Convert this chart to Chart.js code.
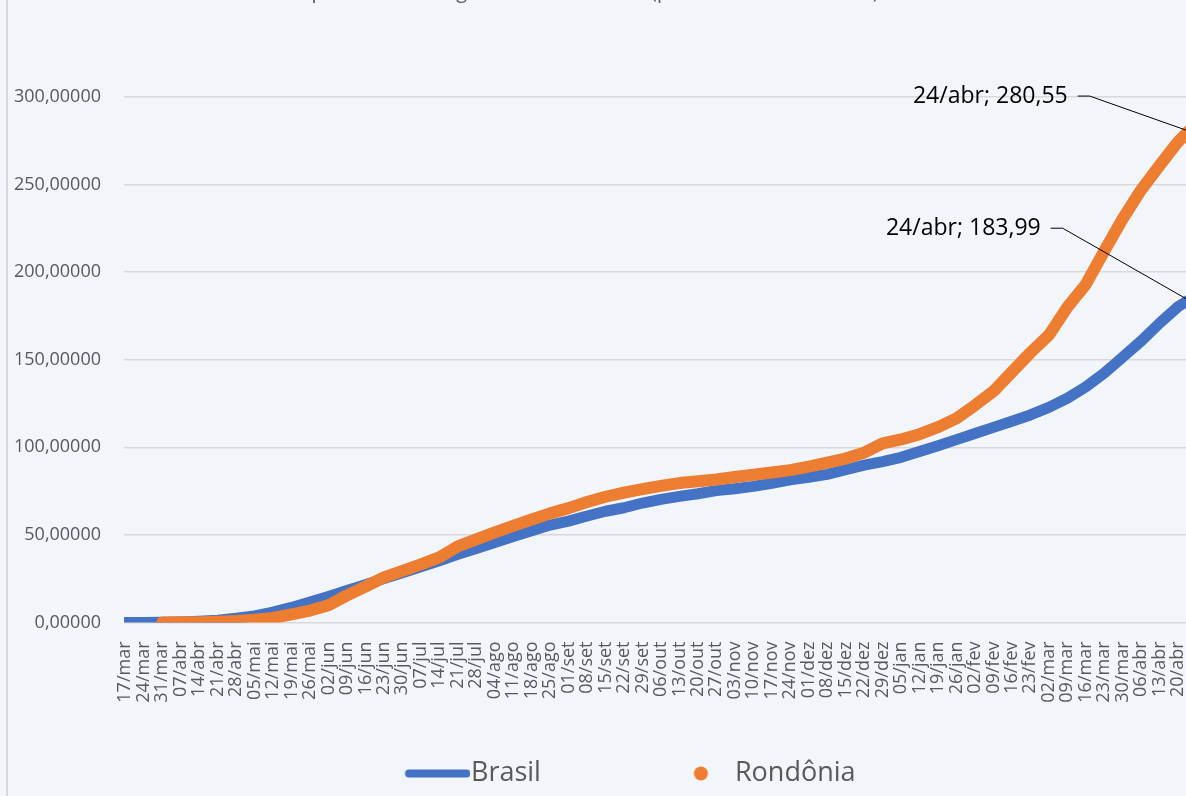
<!DOCTYPE html>
<html lang="pt-BR">
<head>
<meta charset="utf-8">
<title>Brasil x Rondônia</title>
<script src="https://cdn.jsdelivr.net/npm/chart.js@4.4.1/dist/chart.umd.min.js"></script>
<style>
  html, body { margin: 0; padding: 0; background: #f2f5fa; overflow: hidden; }
  body { width: 1186px; height: 796px; position: relative; }
  #caixa { position: absolute; left: 0; top: -46px; width: 1190px; height: 843px; }
  #moldura { position: absolute; left: 6px; top: 0; width: 1.5px; height: 796px; background: #d9d9d9; }
</style>
</head>
<body>
<div id="caixa"><canvas id="grafico" width="1190" height="843"></canvas></div>
<div id="moldura"></div>
<script>
// datas semanais (a última é o dia final da série)
var datas = ['17/mar','24/mar','31/mar','07/abr','14/abr','21/abr','28/abr','05/mai','12/mai','19/mai','26/mai',
  '02/jun','09/jun','16/jun','23/jun','30/jun','07/jul','14/jul','21/jul','28/jul','04/ago','11/ago','18/ago','25/ago',
  '01/set','08/set','15/set','22/set','29/set','06/out','13/out','20/out','27/out','03/nov','10/nov','17/nov','24/nov',
  '01/dez','08/dez','15/dez','22/dez','29/dez','05/jan','12/jan','19/jan','26/jan','02/fev','09/fev','16/fev','23/fev',
  '02/mar','09/mar','16/mar','23/mar','30/mar','06/abr','13/abr','20/abr','24/abr'];

// dia desde 17/mar de cada data acima
var dias = [0,7,14,21,28,35,42,49,56,63,70,77,84,91,98,105,112,119,126,133,140,147,154,161,168,175,182,189,196,
  203,210,217,224,231,238,245,252,259,266,273,280,287,294,301,308,315,322,329,336,343,350,357,364,371,378,385,392,399,403];

var brasil = [0, 0.0, 0.1, 0.3, 0.7, 1.3, 2.4, 3.8, 5.9, 8.6, 11.7, 14.9, 18.3, 21.6, 25.1, 28.4, 31.8, 35.3, 38.9,
  42.2, 45.7, 49.1, 52.4, 55.6, 57.9, 60.8, 63.5, 65.5, 68.2, 70.3, 72.0, 73.5, 75.3, 76.4, 77.7, 79.5, 81.4, 82.9,
  84.6, 87.2, 89.8, 91.9, 94.3, 97.6, 100.9, 104.4, 107.9, 111.4, 114.9, 118.5, 122.8, 128.0, 134.5, 142.4, 151.5,
  160.7, 170.9, 180.3, 183.99];

var rondonia = [null, null, 0.0, 0.1, 0.2, 0.4, 0.8, 1.6, 2.6, 4.6, 6.8, 9.8, 15.5, 20.5, 25.8, 29.5, 33.2, 37.2,
  43.5, 47.5, 51.5, 55.2, 58.8, 62.3, 65.3, 68.8, 71.8, 74.2, 76.2, 78.0, 79.6, 80.6, 81.6, 83.1, 84.3, 85.6, 87.0,
  89.0, 91.2, 93.6, 97.0, 102.3, 104.5, 107.5, 111.5, 116.5, 124.0, 132.0, 143.0, 154.0, 164.0, 180.0, 193.0, 212.0,
  230.5, 247.0, 261.0, 274.5, 280.55];

var azul = '#4472C4', laranja = '#ED7D31', cinza = '#595959';

function pontos(valores) {
  return valores.map(function (v, i) { return { x: dias[i], y: v }; });
}

// amostras da legenda (desenhadas na parte direita de uma imagem larga)
function amostraLinha() {
  var c = document.createElement('canvas');
  c.width = 149; c.height = 15;
  var g = c.getContext('2d');
  g.strokeStyle = azul; g.lineWidth = 8; g.lineCap = 'round';
  g.beginPath(); g.moveTo(87.5, 7.5); g.lineTo(145, 7.5); g.stroke();
  return c;
}
function amostraPonto() {
  var c = document.createElement('canvas');
  c.width = 149; c.height = 15;
  var g = c.getContext('2d');
  g.fillStyle = laranja;
  g.beginPath(); g.arc(115.5, 7.5, 7, 0, Math.PI * 2); g.fill();
  return c;
}

// rótulos do último ponto com linha de chamada
var rotulosFinais = {
  id: 'rotulosFinais',
  afterDatasetsDraw: function (chart) {
    var ctx = chart.ctx;
    var desloc = [[-148, -72], [-121, -35]];
    chart.data.datasets.forEach(function (ds, i) {
      var meta = chart.getDatasetMeta(i);
      var ult = meta.data[meta.data.length - 1];
      var valor = ds.data[ds.data.length - 1].y;
      var texto = datas[datas.length - 1] + '; ' + valor.toFixed(2).replace('.', ',');
      var tx = ult.x + desloc[i][0], ty = ult.y + desloc[i][1];
      ctx.save();
      ctx.font = '23px "Open Sans"';
      ctx.fillStyle = '#000';
      ctx.textAlign = 'right';
      ctx.textBaseline = 'middle';
      ctx.fillText(texto, tx, ty);
      ctx.strokeStyle = '#000';
      ctx.lineWidth = 1;
      ctx.beginPath();
      ctx.moveTo(tx + 10, ty);
      ctx.lineTo(tx + 22, ty);
      ctx.lineTo(ult.x, ult.y);
      ctx.stroke();
      ctx.restore();
    });
  }
};

new Chart(document.getElementById('grafico'), {
  type: 'line',
  data: {
    datasets: [{
      label: 'Brasil',
      data: pontos(brasil),
      borderColor: azul,
      backgroundColor: azul,
      borderWidth: 11,
      borderCapStyle: 'round',
      borderJoinStyle: 'round',
      pointRadius: 0,
      order: 1
    }, {
      label: 'Rondônia',
      data: pontos(rondonia),
      borderColor: laranja,
      backgroundColor: laranja,
      borderWidth: 12,
      borderCapStyle: 'round',
      borderJoinStyle: 'round',
      pointRadius: 0,
      order: 0
    }]
  },
  options: {
    responsive: false,
    animation: false,
    devicePixelRatio: 1,
    layout: { padding: 0 },
    scales: {
      x: {
        type: 'linear',
        min: -0.5,
        max: 403.5,
        grid: { display: false },
        border: { display: false },
        afterFit: function (s) { s.height = 80; s.paddingLeft = 0; s.paddingRight = 0; },
        ticks: {
          stepSize: 7,
          includeBounds: false,
          autoSkip: false,
          minRotation: 90,
          maxRotation: 90,
          padding: 11,
          color: cinza,
          font: { family: 'Open Sans', size: 18 },
          callback: function (v) { return datas[Math.round(v / 7)]; }
        }
      },
      y: {
        min: 0,
        max: 300,
        afterFit: function (s) { s.width = 124; },
        grid: { color: '#d9d9d9', lineWidth: 1.5, drawTicks: false },
        border: { display: false },
        ticks: {
          stepSize: 50,
          padding: 23,
          color: cinza,
          font: { family: 'Open Sans', size: 18 },
          callback: function (v) { return v.toFixed(5).replace('.', ','); }
        }
      }
    },
    plugins: {
      title: {
        display: true,
        text: ['Taxa de mortalidade acumulada', 'por Covid-19 segundo data do óbito (por 100.000 habitantes)'],
        color: cinza,
        font: { family: 'Open Sans', size: 20, weight: 'normal' },
        padding: { top: 2, bottom: 93 }
      },
      legend: {
        position: 'bottom',
        labels: {
          usePointStyle: true,
          pointStyleWidth: 123,
          boxHeight: 10,
          padding: 57.5,
          color: cinza,
          font: { family: 'Open Sans', size: 27 },
          generateLabels: function () {
            return [
              { text: 'Brasil', pointStyle: amostraLinha(), fillStyle: azul, strokeStyle: azul, lineWidth: 0, fontColor: cinza, datasetIndex: 0 },
              { text: 'Rondônia', pointStyle: amostraPonto(), fillStyle: laranja, strokeStyle: laranja, lineWidth: 0, fontColor: cinza, datasetIndex: 1 }
            ];
          }
        }
      },
      tooltip: { enabled: false }
    }
  },
  plugins: [rotulosFinais]
});
</script>
</body>
</html>
